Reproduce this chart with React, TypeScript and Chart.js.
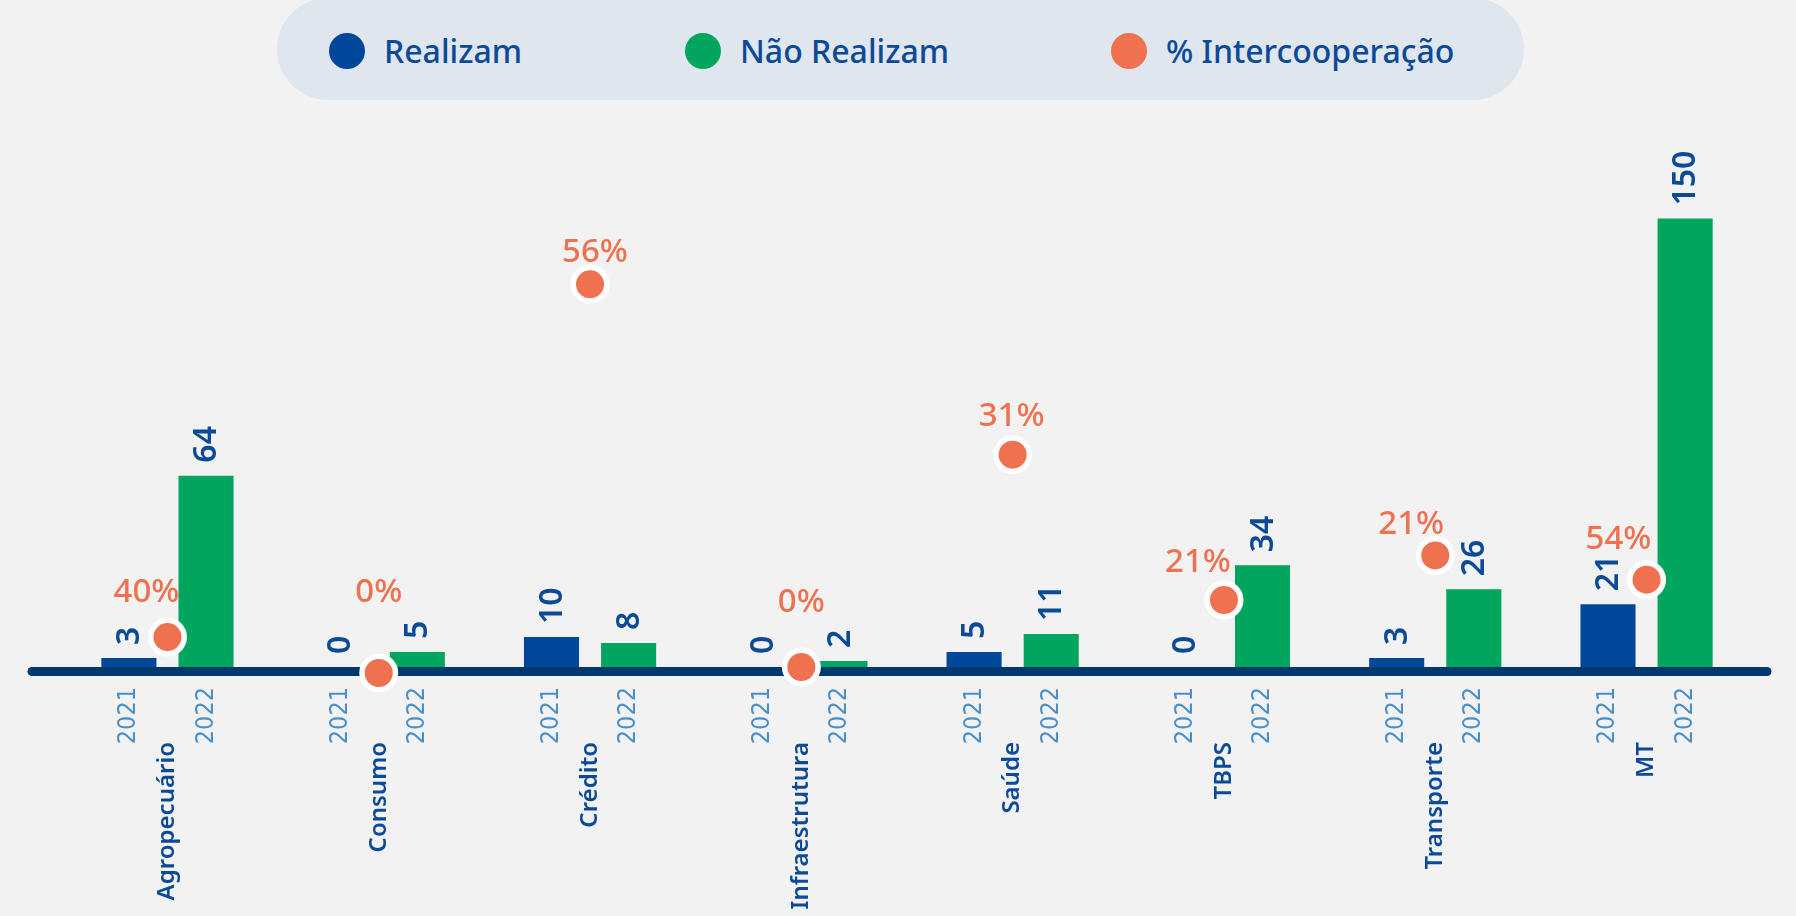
import React, { useEffect, useRef } from "react";
import { Chart, registerables } from "chart.js";

Chart.register(...registerables);

const categories = ["Agropecuário", "Consumo", "Crédito", "Infraestrutura", "Saúde", "TBPS", "Transporte", "MT"];
const yearLabels = ["2021", "2022"];
const realizam = [3, 0, 10, 0, 5, 0, 3, 21];
const naoRealizam = [64, 5, 8, 2, 11, 34, 26, 150];
const intercoopPct = [40, 0, 56, 0, 31, 21, 21, 54];
// height at which each % marker is drawn in the picture, read on the count axis
const intercoopLevel = [10, -2, 128, 0, 71, 22.4, 37.3, 29.2];

// styling: offsets of the % text from its marker (px)
const pctLabelNudge: [number, number][] = [
  [-21, -45], [0, -80], [5, -32], [0, -64], [-1, -38], [-26, -37], [-24, -31], [-28, -40],
];

const BLUE = "#00479a";
const GREEN = "#00a65d";
const ORANGE = "#f0714f";
const NAVY = "#01386e";
const TEXT_BLUE = "#0b4a97";
const YEAR_BLUE = "#4a8fc8";
const BG = "#f2f2f2";

const overlayPlugin = {
  id: "overlay",
  beforeDatasetDraw(chart: any, args: any) {
    if (args.index !== 2) return;
    const ctx = chart.ctx;
    const y0 = chart.scales.y.getPixelForValue(0);
    ctx.save();
    ctx.strokeStyle = NAVY;
    ctx.lineWidth = 9;
    ctx.lineCap = "round";
    ctx.beginPath();
    ctx.moveTo(32, y0 + 4.5);
    ctx.lineTo(1767, y0 + 4.5);
    ctx.stroke();
    ctx.restore();
  },
  afterDatasetsDraw(chart: any) {
    const ctx = chart.ctx;
    const y0 = chart.scales.y.getPixelForValue(0);
    ctx.save();
    [0, 1].forEach((di) => {
      const meta = chart.getDatasetMeta(di);
      const vals = di === 0 ? realizam : naoRealizam;
      meta.data.forEach((bar: any, i: number) => {
        ctx.save();
        ctx.translate(bar.x, bar.y - 13);
        ctx.rotate(-Math.PI / 2);
        ctx.fillStyle = TEXT_BLUE;
        ctx.font = "600 32px 'Noto Sans', sans-serif";
        ctx.textAlign = "left";
        ctx.textBaseline = "middle";
        ctx.fillText(String(vals[i]), 0, 1);
        ctx.restore();
        ctx.save();
        ctx.translate(bar.x, y0 + 20);
        ctx.rotate(-Math.PI / 2);
        ctx.fillStyle = YEAR_BLUE;
        ctx.font = "25px 'Liberation Sans Narrow', 'DejaVu Sans Condensed', sans-serif";
        ctx.textAlign = "right";
        ctx.textBaseline = "middle";
        ctx.fillText(yearLabels[di], 0, 0);
        ctx.restore();
      });
    });
    const xs = chart.scales.x;
    categories.forEach((c, i) => {
      const x = xs.getPixelForValue(i);
      ctx.save();
      ctx.translate(x, y0 + 75);
      ctx.rotate(-Math.PI / 2);
      ctx.fillStyle = TEXT_BLUE;
      ctx.font = "600 24px 'Noto Sans', sans-serif";
      ctx.textAlign = "right";
      ctx.textBaseline = "middle";
      ctx.fillText(c, 0, 0);
      ctx.restore();
    });
    const pm = chart.getDatasetMeta(2);
    pm.data.forEach((pt: any, i: number) => {
      const [dx, dy] = pctLabelNudge[i];
      ctx.fillStyle = ORANGE;
      ctx.font = "500 33px 'Noto Sans', sans-serif";
      ctx.textAlign = "center";
      ctx.textBaseline = "middle";
      ctx.fillText(intercoopPct[i] + "%", pt.x + dx, pt.y + dy);
    });
    ctx.restore();
  },
};

export default function App() {
  const ref = useRef<HTMLCanvasElement>(null);
  useEffect(() => {
    if (!ref.current) return;
    const chart = new Chart(ref.current, {
      type: "bar",
      data: {
        labels: categories,
        datasets: [
          {
            label: "Realizam",
            data: realizam,
            backgroundColor: BLUE,
            categoryPercentage: 0.73,
            barPercentage: 0.714,
            order: 1,
          },
          {
            label: "Não Realizam",
            data: naoRealizam,
            backgroundColor: GREEN,
            categoryPercentage: 0.73,
            barPercentage: 0.714,
            order: 2,
          },
          {
            type: "line",
            label: "% Intercooperação",
            data: intercoopLevel,
            showLine: false,
            pointRadius: 16.75,
            pointBorderWidth: 5.5,
            pointBackgroundColor: ORANGE,
            pointBorderColor: "#ffffff",
            clip: false,
            order: 0,
          } as any,
        ],
      },
      options: {
        animation: false,
        responsive: false,
        maintainAspectRatio: false,
        layout: { padding: { left: 61.8, right: 43.8, top: 188.6, bottom: 249 } },
        plugins: { legend: { display: false }, tooltip: { enabled: false } },
        scales: {
          x: { display: false, offset: true, grid: { display: false } },
          y: { display: false, min: 0, max: 160 },
        },
      },
      plugins: [overlayPlugin],
    });
    return () => chart.destroy();
  }, []);

  const legendItems = [
    { label: "Realizam", color: BLUE, cx: 347, tx: 384 },
    { label: "Não Realizam", color: GREEN, cx: 703, tx: 740 },
    { label: "% Intercooperação", color: ORANGE, cx: 1129, tx: 1166 },
  ];

  return (
    <div style={{ position: "fixed", left: 0, top: 0, width: 1796, height: 916, background: BG, overflow: "hidden" }}>
      <div
        style={{
          position: "absolute",
          left: 277,
          top: -2,
          width: 1247,
          height: 102,
          borderRadius: 51,
          background: "#dfe6ee",
        }}
      />
      {legendItems.map((it) => (
        <React.Fragment key={it.label}>
          <div
            style={{
              position: "absolute",
              left: it.cx - 18,
              top: 51 - 18,
              width: 36,
              height: 36,
              borderRadius: 18,
              background: it.color,
            }}
          />
          <div
            style={{
              position: "absolute",
              left: it.tx,
              top: 51,
              transform: "translateY(-50%)",
              font: "500 32px 'Noto Sans', sans-serif",
              color: TEXT_BLUE,
              whiteSpace: "nowrap",
              lineHeight: 1,
            }}
          >
            {it.label}
          </div>
        </React.Fragment>
      ))}
      <canvas ref={ref} width={1796} height={916} style={{ position: "absolute", left: 0, top: 0, width: 1796, height: 916 }} />
    </div>
  );
}
